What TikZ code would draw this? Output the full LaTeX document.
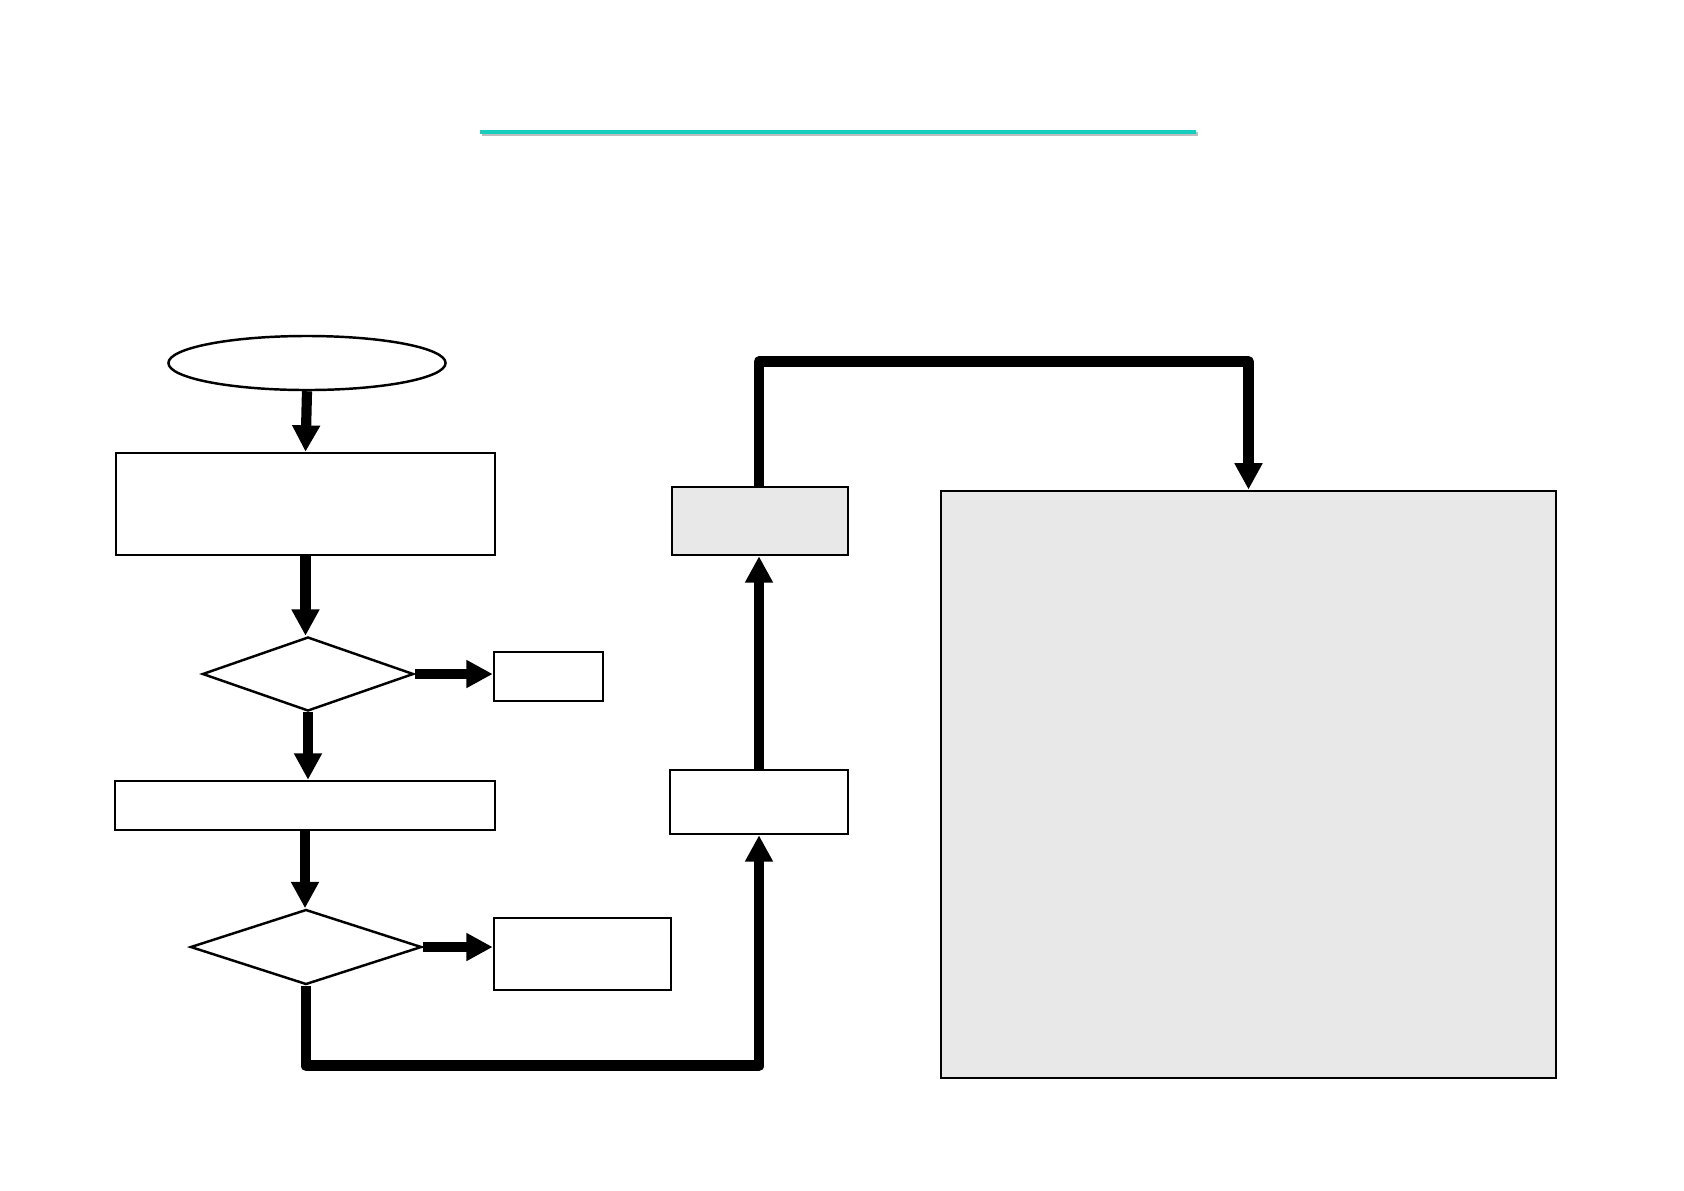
\documentclass[tikz,border=0pt]{standalone}
\usepackage{xcolor}
\definecolor{fcteal}{RGB}{22,206,190}
\definecolor{fcshadow}{RGB}{190,190,190}
\definecolor{fcgray}{RGB}{232,232,232}
\usepackage{tikz}
\usetikzlibrary{arrows.meta,positioning,shapes.geometric,calc}

\begin{document}
\begin{tikzpicture}[
  x=0.01cm, y=-0.01cm,
  flowbox/.style={
    rectangle, draw=black, line width=0.7pt,
    fill=white, inner sep=0pt
  },
  flowdec/.style={
    diamond, draw=black, line width=0.7pt,
    fill=white, inner sep=0pt
  },
  conn/.style={-{Triangle[width=7.5pt,length=7.5pt]}, line width=2.9pt, draw=black},
  route/.style={conn, line width=3.1pt, line join=round}
]
\useasboundingbox (0,0) rectangle (1684,1190);

\draw[fcshadow, line width=1.2pt] (482,134) -- (1198,134);
\draw[fcteal, line width=1.2pt] (480,132) -- (1196,132);

\node[ellipse, draw=black, line width=0.7pt, inner sep=0pt,
      minimum width=2.77cm, minimum height=0.54cm] (start) at (307,363) {};
\node[flowbox, minimum width=3.79cm, minimum height=1.02cm] (box1) at (305.5,504) {};
\node[flowdec, minimum width=2.11cm, minimum height=0.74cm] (dec1) at (308,674) {};
\node[flowbox, minimum width=1.09cm, minimum height=0.49cm] (outA) at (548.5,676.5) {};
\node[flowbox, minimum width=3.80cm, minimum height=0.49cm] (box2) at (305,805.5) {};
\node[flowdec, minimum width=2.31cm, minimum height=0.75cm] (dec2) at (306,947) {};
\node[flowbox, minimum width=1.77cm, minimum height=0.72cm] (outB) at (582.5,954) {};
\node[flowbox, minimum width=1.78cm, minimum height=0.64cm] (boxC) at (759,802) {};
\node[flowbox, fill=fcgray, minimum width=1.76cm, minimum height=0.68cm] (boxD) at (760,521) {};
\node[flowbox, fill=fcgray, minimum width=6.15cm, minimum height=5.87cm] (boxE) at (1248.5,784.5) {};

\draw[conn] (start.south) -- (box1.north);
\draw[conn] (box1.south) -- (box1.south |- dec1.north);
\draw[conn] (dec1.east) -- (dec1.east -| outA.west);
\draw[conn] (dec1.south) -- (dec1.south |- box2.north);
\draw[conn] (box2.south) -- (box2.south |- dec2.north);
\draw[conn] (dec2.east) -- (dec2.east -| outB.west);
\draw[route] (dec2.south) -- ++(0,80) -| (boxC.south);
\draw[conn] (boxC.north) -- (boxC.north |- boxD.south);
\draw[route] (boxC.north |- boxD.north) -- ++(0,-124) -| (boxE.north);
\end{tikzpicture}
\end{document}
